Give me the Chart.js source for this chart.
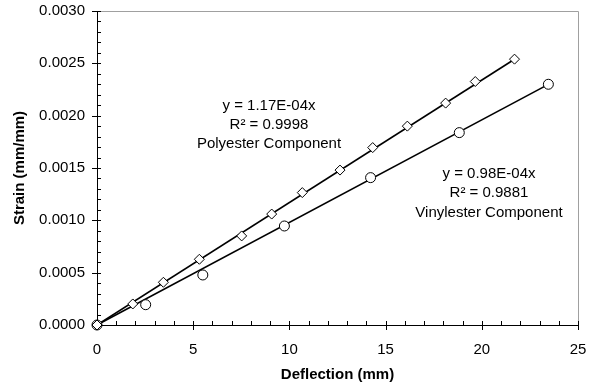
<!DOCTYPE html>
<html>
<head>
<meta charset="utf-8">
<script src="https://cdn.jsdelivr.net/npm/chart.js@4/dist/chart.umd.min.js"></script>
<style>
html,body{margin:0;padding:0;background:#fff;}
#wrap{width:592px;height:388px;position:relative;}
</style>
</head>
<body>
<div id="wrap"><canvas id="c" width="592" height="388"></canvas></div>
<script>
// Data
const polyDeflection = [0, 1.86, 3.45, 5.32, 7.52, 9.08, 10.67, 12.63, 14.33, 16.13, 18.12, 19.66, 21.7];
const polyStrain     = [0, 0.000201, 0.000408, 0.000628, 0.000851, 0.00106, 0.001265, 0.00148, 0.001695, 0.0019, 0.00212, 0.002326, 0.00254];
const vinylDeflection = [0, 2.53, 5.5, 9.74, 14.22, 18.83, 23.46];
const vinylStrain     = [0, 0.000194, 0.000478, 0.000946, 0.001408, 0.001838, 0.0023];
// Trend line endpoints (y = 1.17E-04x and y = 0.98E-04x)
const polyTrendX = [0, 21.7];
const polyTrendY = [0, 0.002539];
const vinylTrendX = [0, 23.46];
const vinylTrendY = [0, 0.002299];
const xTicks = [0, 5, 10, 15, 20, 25];
const yTicks = [0, 0.0005, 0.001, 0.0015, 0.002, 0.0025, 0.003];
const polyLabel = ['y = 1.17E-04x', 'R\u00B2 = 0.9998', 'Polyester Component'];
const vinylLabel = ['y = 0.98E-04x', 'R\u00B2 = 0.9881', 'Vinylester Component'];

const pts = (xs, ys) => xs.map((x, i) => ({x: x, y: ys[i]}));
const FONT = 'Liberation Sans, Arial, sans-serif';

const framePlugin = {
  id: 'frame',
  beforeDatasetsDraw(chart) {
    const ctx = chart.ctx, a = chart.chartArea;
    const xs = chart.scales.x, ys = chart.scales.y;
    ctx.save();
    // gray top/right frame
    ctx.strokeStyle = '#a0a0a0';
    ctx.lineWidth = 1;
    ctx.beginPath();
    ctx.moveTo(a.left, a.top + 0.5);
    ctx.lineTo(a.right + 0.5, a.top + 0.5);
    ctx.lineTo(a.right + 0.5, a.bottom);
    ctx.stroke();
    // ticks
    ctx.strokeStyle = '#000';
    ctx.beginPath();
    for (let v = 0; v <= 25.0001; v += 1) {
      const px = Math.round(xs.getPixelForValue(v)) + 0.5;
      const major = Math.abs(v / 5 - Math.round(v / 5)) < 1e-6;
      ctx.moveTo(px, a.bottom - 4);
      ctx.lineTo(px, a.bottom + (major ? 5 : 0));
    }
    for (let k = 0; k <= 30; k++) {
      const v = k * 0.0001;
      const py = Math.round(ys.getPixelForValue(v)) + 0.5;
      const major = k % 5 === 0;
      ctx.moveTo(a.left + 4, py);
      ctx.lineTo(a.left - (major ? 5 : 0), py);
    }
    ctx.stroke();
    // annotations
    ctx.fillStyle = '#000';
    ctx.font = '15px ' + FONT;
    ctx.textAlign = 'center';
    ctx.textBaseline = 'middle';
    const pY0 = [106, 125, 144];
    polyLabel.forEach((t, i) => ctx.fillText(t, 269, pY0[i]));
    const vY0 = [174, 193, 213];
    vinylLabel.forEach((t, i) => ctx.fillText(t, 489, vY0[i]));
    ctx.restore();
  }
};

new Chart(document.getElementById('c'), {
  type: 'scatter',
  data: {
    datasets: [
      {
        type: 'line', label: 'Polyester trend', data: pts(polyTrendX, polyTrendY),
        borderColor: '#000', borderWidth: 1.6, pointRadius: 0, fill: false, order: 3
      },
      {
        type: 'line', label: 'Vinylester trend', data: pts(vinylTrendX, vinylTrendY),
        borderColor: '#000', borderWidth: 1.6, pointRadius: 0, fill: false, order: 3
      },
      {
        label: 'Polyester Component', data: pts(polyDeflection, polyStrain),
        pointStyle: 'rectRot', pointRadius: 5, backgroundColor: '#fff',
        borderColor: '#000', borderWidth: 1, order: 1, clip: false
      },
      {
        label: 'Vinylester Component', data: pts(vinylDeflection, vinylStrain),
        pointStyle: 'circle', pointRadius: 5, backgroundColor: '#fff',
        borderColor: '#000', borderWidth: 1, order: 1, clip: false
      }
    ]
  },
  options: {
    responsive: false,
    animation: false,
    layout: { padding: { left: 0, right: 14, top: 11, bottom: 0 } },
    plugins: { legend: { display: false }, tooltip: { enabled: false } },
    scales: {
      x: {
        type: 'linear', min: 0, max: 25,
        afterBuildTicks(s) { s.ticks = xTicks.map(v => ({value: v})); },
        afterFit(s) { s.height = 63; s.paddingLeft = 0; s.paddingRight = 0; },
        grid: { display: true, drawOnChartArea: false, drawTicks: false },
        border: { display: true, color: '#000', width: 1 },
        ticks: { color: '#000', font: { family: FONT, size: 15 }, padding: 16 },
        title: { display: true, text: 'Deflection (mm)', color: '#000',
                 font: { family: FONT, size: 15, weight: 'bold' }, padding: { top: 0, bottom: 4 } }
      },
      y: {
        type: 'linear', min: 0, max: 0.003,
        afterBuildTicks(s) { s.ticks = yTicks.map(v => ({value: v})); },
        afterFit(s) { s.width = 97; s.paddingTop = 0; s.paddingBottom = 0; },
        grid: { display: true, drawOnChartArea: false, drawTicks: false },
        border: { display: true, color: '#000', width: 1 },
        ticks: { color: '#000', font: { family: FONT, size: 15 }, padding: 12,
                 callback: v => v.toFixed(4) },
        title: { display: true, text: 'Strain (mm/mm)', color: '#000',
                 font: { family: FONT, size: 15, weight: 'bold' }, padding: { top: 11, bottom: 0 } }
      }
    }
  },
  plugins: [framePlugin]
});
</script>
</body>
</html>
